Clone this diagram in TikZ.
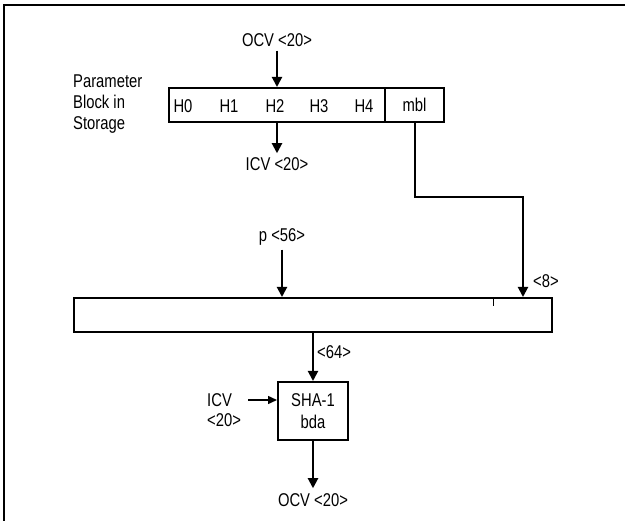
\documentclass[tikz,border=0pt]{standalone}
\usepackage{fontspec}
\setmainfont{Liberation Sans}[FakeStretch=0.8]
\usetikzlibrary{positioning, arrows.meta, calc}

\begin{document}
\begin{tikzpicture}[
  x=1pt, y=-1pt,
  box/.style={draw, line width=2pt, minimum height=#1, inner sep=0pt,
    align=center, font=\fontsize{18.5}{22}\selectfont},
  box/.default={34pt},
  lbl/.style={inner sep=0pt, font=\fontsize{18.5}{20}\selectfont},
  flow/.style={line width=2pt, -{Triangle[width=10pt, length=10pt]}},
  >=Stealth
]
\useasboundingbox (0,0) rectangle (625,521);

% frame
\draw[line width=2.5pt] (4,521) -- (4,5) -- (625,5);

% Parameter block
\node[box, minimum width=216pt] (hreg) at (276.5,105) {};
\node[box, minimum width=59pt] (mbl) at (414.5,105) {mbl};
\foreach \i/\xx in {0/183, 1/229, 2/275, 3/319, 4/364}
  \node[lbl] (h\i) at (\xx,106) {H\i};
\node[lbl, align=left, anchor=west, font=\fontsize{18.5}{21}\selectfont] (plbl)
  at (73,104) {Parameter\\Block in\\Storage};
\node[lbl] (ocvin) at (277,40) {OCV <20>};
\node[lbl] (icvout) at (277,164) {ICV <20>};

\draw[flow, shorten <=4pt] (ocvin.south) -- (ocvin.south |- hreg.north);
\draw[flow, shorten >=4pt] (hreg.south -| icvout) -- (icvout.north);

% Padded message
\node[box, minimum width=478pt] (pad) at (313,315) {};
\node[lbl] (pin) at (282,237) {p <56>};
\node[lbl, anchor=west] (lenlbl) at (533,281) {<8>};
\coordinate (bend) at (523,197);

\draw[flow, shorten <=4pt] (pin.south) -- (pin.south |- pad.north);
\draw[flow] (mbl.south) |- (bend) -- (bend |- pad.north);
\draw[line width=1pt] (493,299) -- (493,306);

% Compression
\node[box=58pt, minimum width=70pt] (sha) at (313,411) {SHA-1\\bda};
\node[lbl, anchor=west] (blklbl) at (317,352) {<64>};
\node[lbl, align=left, anchor=west] (icvin) at (207,410) {ICV\\<20>};
\node[lbl] (ocvout) at (313,500) {OCV <20>};
\coordinate (icvtail) at (248,400);

\draw[flow] (pad.south -| sha.north) -- (sha.north);
\draw[line width=1.5pt, -{Triangle[width=8pt, length=9pt]}]
  (icvtail) -- (icvtail -| sha.west);
\draw[flow, shorten >=5pt] (sha.south) -- (ocvout.north);

\end{tikzpicture}
\end{document}
